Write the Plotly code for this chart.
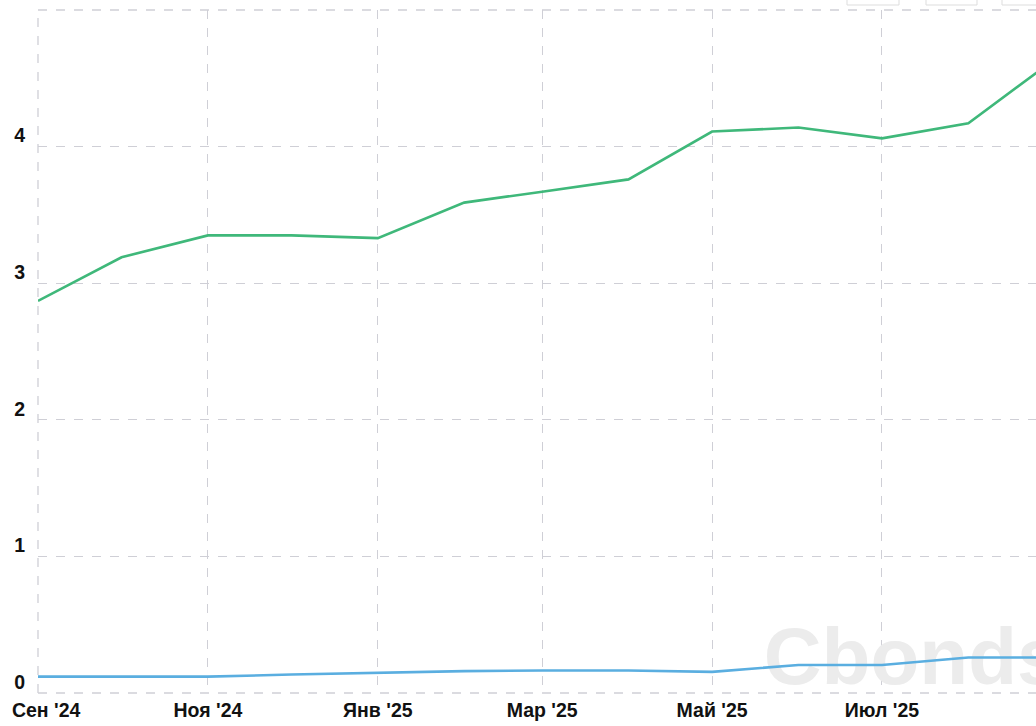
import plotly.graph_objects as go

dates = ["2024-09-01", "2024-10-01", "2024-11-01", "2024-12-01", "2025-01-01",
         "2025-02-01", "2025-03-01", "2025-04-01", "2025-05-01", "2025-06-01",
         "2025-07-01", "2025-08-01", "2025-09-01"]
green_values = [2.87, 3.19, 3.35, 3.35, 3.33, 3.59, 3.67, 3.76, 4.11, 4.14, 4.06, 4.17, 4.64]
blue_values = [0.12, 0.12, 0.12, 0.135, 0.15, 0.16, 0.165, 0.165, 0.155, 0.205, 0.205, 0.26, 0.26]

x_tickvals = ["2024-09-01", "2024-11-01", "2025-01-01", "2025-03-01", "2025-05-01", "2025-07-01"]
x_ticktext = ["\u00a0\u00a0\u00a0Сен '24", "Ноя '24", "Янв '25", "Мар '25", "Май '25", "Июл '25"]
y_tickvals = [0, 1, 2, 3, 4, 5]
y_ticktext = ["0", "1", "2", "3", "4", ""]

grid_color = "#cfcfd6"
label_font = dict(family="Arial, 'Liberation Sans', sans-serif", size=19.5, weight="bold", color="#111111")

fig = go.Figure()

# watermark drawn first so lines sit above it
fig.add_trace(go.Scatter(
    x=["2025-07-12"], y=[0.21], mode="text", text=["Cbonds"],
    textfont=dict(family="Arial, 'Liberation Sans', sans-serif", size=80, color="#ececec", weight="bold"),
    textposition="middle center", hoverinfo="skip", showlegend=False, cliponaxis=False,
))

fig.add_trace(go.Scatter(
    x=dates, y=green_values, mode="lines",
    line=dict(color="#3fb87a", width=2.6), showlegend=False,
))
fig.add_trace(go.Scatter(
    x=dates, y=blue_values, mode="lines",
    line=dict(color="#5aaee0", width=2.6), showlegend=False,
))

fig.update_layout(
    width=1036, height=726,
    margin=dict(l=38, r=0, t=10, b=33),
    paper_bgcolor="white", plot_bgcolor="white",
    showlegend=False,
    font=dict(family="Arial, 'Liberation Sans', sans-serif", color="#111111"),
)

fig.update_xaxes(
    type="date", automargin=False,
    range=["2024-09-01", "2025-08-25 07:00"],
    tickvals=x_tickvals, ticktext=x_ticktext,
    tickfont=label_font, ticklabeloverflow="allow",
    showgrid=True, gridcolor=grid_color, griddash="dash", gridwidth=1.3,
    zeroline=False, showline=False, ticks="", ticklabelstandoff=3,
)
fig.update_yaxes(
    range=[0, 5], automargin=False,
    tickvals=y_tickvals, ticktext=y_ticktext,
    tickfont=label_font, ticklabeloverflow="allow",
    showgrid=True, gridcolor=grid_color, griddash="dash", gridwidth=1.3,
    zeroline=False, showline=False, ticks="", ticklabelshift=-11,
    ticklabelstandoff=12,
)

# edge gridlines (left, top, bottom) that plotly drops at the range ends
edge_line = dict(color=grid_color, width=1.3, dash="dash")
fig.add_shape(type="line", xref="paper", yref="paper", x0=0, x1=0, y0=0, y1=1, line=edge_line, layer="below")
fig.add_shape(type="line", xref="paper", yref="paper", x0=0, x1=1, y0=1, y1=1, line=edge_line, layer="below")
fig.add_shape(type="line", xref="paper", yref="paper", x0=0, x1=1, y0=0, y1=0, line=edge_line, layer="below")

# partially visible UI buttons above the plot
for x0, x1 in [(847, 899), (926, 977), (1002, 1050)]:
    fig.add_shape(type="rect", xref="paper", yref="paper",
                  x0=(x0 - 38) / 998, x1=(x1 - 38) / 998,
                  y0=(693 - (-10)) / 683, y1=(693 - 5) / 683,
                  line=dict(color="#dddddd", width=1), fillcolor="white", layer="above")

fig.write_html("out.html", config={"displayModeBar": False},
               post_script="document.body.style.margin='0';document.body.style.overflow='hidden';")
